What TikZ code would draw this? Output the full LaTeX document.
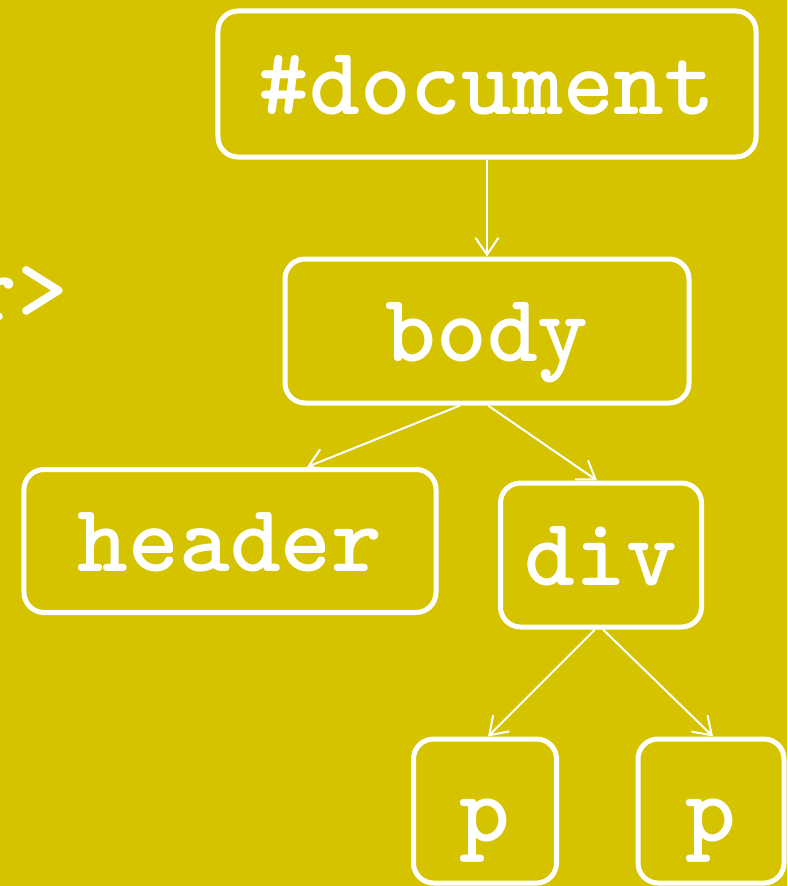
\documentclass[tikz,border=0pt]{standalone}
\usepackage{fontspec}
\usetikzlibrary{arrows.meta}
\definecolor{mustard}{RGB}{214,195,0}
\newcommand*{\tagfont}{\ttfamily\bfseries\fontsize{55}{60}\selectfont}
\tikzstyle{base}=[x=0.2mm, y=-0.2mm]
\tikzstyle{tag}=[draw=white, line width=1mm, rounded corners=4mm, text=white, font=\tagfont, text height=1.5cm, text depth=0.3cm, inner sep=0pt]
\tikzstyle{link}=[white, line width=0.4mm, -{Straight Barb[length=3.4mm,width=4.6mm]}]
\begin{document}
\begin{tikzpicture}[base]
    \useasboundingbox (0,0) rectangle (787,886);
    \fill [mustard] (0,0) rectangle (787,886);
    \node [text=white, font=\tagfont, anchor=base east] (endtag) at (74,320) {r>};
    \node [tag, minimum width=10.76cm, minimum height=2.92cm] (document) at (487,84) {\#document};
    \node [tag, minimum width=8.08cm, minimum height=2.88cm] (body) at (487,331) {body};
    \node [tag, minimum width=8.24cm, minimum height=2.86cm] (header) at (230,541) {header};
    \node [tag, minimum width=4.02cm, minimum height=2.88cm] (div) at (601,555) {div};
    \node [tag, minimum width=2.86cm, minimum height=2.88cm] (p1) at (485,811) {p};
    \node [tag, minimum width=2.92cm, minimum height=2.88cm] (p2) at (711,811) {p};
    \draw [link] (document.south) -- (body.north);
    \draw [link] ([shift={(-27,0)}]body.south) -- ([shift={(77,0)}]header.north);
    \draw [link] ([shift={(1,0)}]body.south) -- ([shift={(-4,0)}]div.north);
    \draw [link] ([shift={(-6,0)}]div.south) -- ([shift={(3,0)}]p1.north);
    \draw [link] ([shift={(2,0)}]div.south) -- ([shift={(2,0)}]p2.north);
\end{tikzpicture}
\end{document}
